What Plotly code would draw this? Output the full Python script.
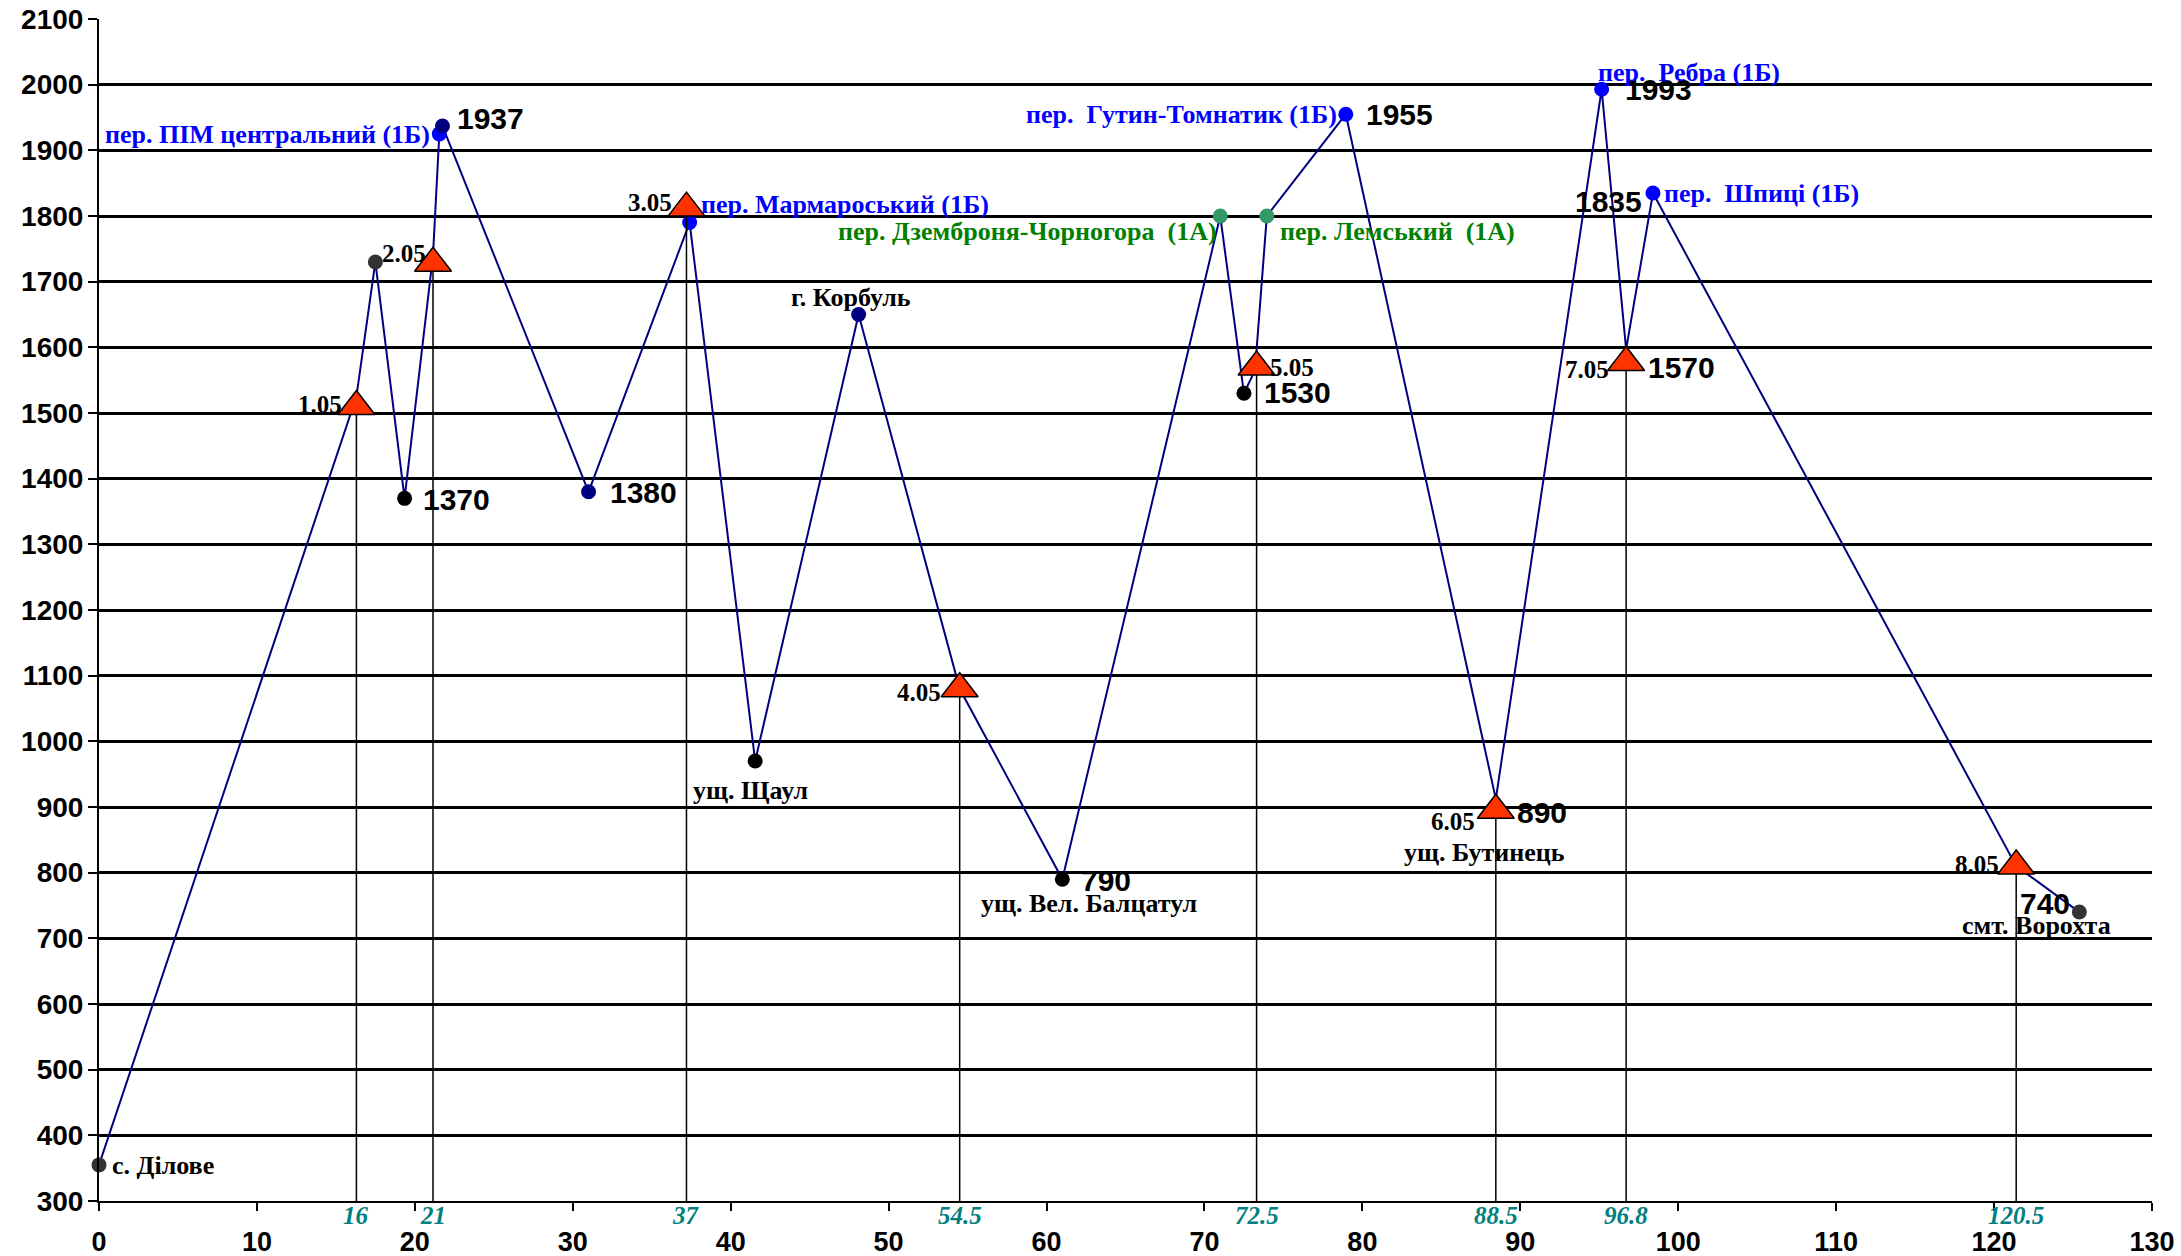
import plotly.graph_objects as go

# route profile: distance (km) and altitude (m), in walking order
route_km = [0, 16.3, 17.5, 19.35, 21.15, 21.55, 21.75, 31.0, 37.4, 41.55, 48.1, 54.5,
            61.0, 71.0, 72.5, 73.2, 73.95, 78.95, 88.45, 95.15, 96.7, 98.4, 121.4, 125.4]
route_alt = [355, 1525, 1730, 1370, 1740, 1925, 1937, 1380, 1790, 970, 1650, 1080,
             790, 1800, 1530, 1565, 1800, 1955, 912, 1993, 1597, 1835, 810, 740]
route_kind = ["grey", "camp", "grey", "black", "camp", "pass1B", "navy", "navy", "pass1B",
              "black", "navy", "camp", "black", "pass1A", "black", "camp", "pass1A",
              "pass1B", "camp", "pass1B", "camp", "pass1B", "camp", "grey"]
value_text = ["", "", "", "1370", "", "", "1937", "1380", "", "", "", "",
              "790", "", "1530", "", "", "1955", "890", "1993", "1570", "1835", "", "740"]
name_text = ["с. Ділове", "", "", "", "", "пер. ПІМ центральний (1Б)", "", "",
             "пер. Мармароський (1Б)", "ущ. Щаул", "г. Корбуль", "", "ущ. Вел. Балцатул",
             "пер. Дземброня-Чорногора \u00a0(1А)", "", "", "пер. Лемський \u00a0(1А)",
             "пер. \u00a0Гутин-Томнатик (1Б)", "ущ. Бутинець", "пер. \u00a0Ребра (1Б)", "",
             "пер. \u00a0Шпиці (1Б)", "", "смт. Ворохта"]

# overnight camps
camp_km = [16.3, 21.15, 37.2, 54.5, 73.3, 88.45, 96.7, 121.4]
camp_alt = [1510, 1728, 1812, 1080, 1570, 895, 1577, 810]
camp_day = ["1.05", "2.05", "3.05", "4.05", "5.05", "6.05", "7.05", "8.05"]
camp_km_text = ["16", "21", "37", "54.5", "72.5", "88.5", "96.8", "120.5"]

# styles
DOT = {"grey": "#333333", "black": "#000000", "navy": "#000080",
       "pass1B": "#0000FF", "pass1A": "#339966"}
NAME_COLOR = {"pass1B": "#0000FF", "pass1A": "#008000"}
SERIF = "Liberation Serif"
SANS = "Liberation Sans"

# label placement: index -> (anchor, dx px, dy px)
value_pos = {3: ("left", 17, -1), 6: ("left", 14, 8), 7: ("left", 20, -1),
             12: ("left", 18, -1), 14: ("left", 19, 1), 17: ("left", 19, 0),
             18: ("left", 20, -13), 19: ("left", 22, 0), 20: ("left", 21, -18),
             21: ("right", -10, -8), 23: ("right", -8, 9)}
name_pos = {0: ("left", 12, -1), 5: ("right", -8, -1), 8: ("left", 10, 18),
            9: ("center", -5, -29), 10: ("center", -8, 17), 12: ("center", 27, -24),
            13: ("right", -2, -15), 16: ("left", 12, -15), 17: ("right", -8, 0),
            18: ("center", -11, -53), 19: ("left", -5, 17), 21: ("left", 10, 0),
            23: ("center", -43, -13)}
day_pos = [("right", -13, 2), ("right", -6, 10), ("right", -13, 6), ("right", -18, -4),
           ("left", 12, 0), ("right", -20, -11), ("right", -16, -7), ("right", -16, 2)]

fig = go.Figure()

fig.add_scatter(x=route_km, y=route_alt, mode="lines",
                line=dict(color="#000080", width=2), hoverinfo="skip")

pts = [i for i, k in enumerate(route_kind) if k != "camp"]
fig.add_scatter(x=[route_km[i] for i in pts], y=[route_alt[i] for i in pts],
                mode="markers", cliponaxis=False,
                marker=dict(size=15, color=[DOT[route_kind[i]] for i in pts]))

fig.add_scatter(x=camp_km, y=camp_alt, mode="markers", cliponaxis=False,
                marker=dict(symbol="triangle-up", size=32, color="#FF3300",
                            line=dict(color="#000000", width=1.5)),
                error_y=dict(type="data", symmetric=False, array=[0] * len(camp_alt),
                             arrayminus=[a - 300 for a in camp_alt],
                             color="#000000", thickness=1.5, width=0))


def label(x, y, text, pos, size, family, color, bold=True):
    anchor, dx, dy = pos
    fig.add_annotation(x=x, y=y, text=f"<b>{text}</b>" if bold else text,
                       showarrow=False, xanchor=anchor, yanchor="middle",
                       xshift=dx, yshift=dy, borderpad=0,
                       font=dict(size=size, family=family, color=color))


for i, t in enumerate(value_text):
    if t:
        label(route_km[i], route_alt[i], t, value_pos[i], 30, SANS, "#000000")

for i, t in enumerate(name_text):
    if t:
        label(route_km[i], route_alt[i], t, name_pos[i], 26, SERIF,
              NAME_COLOR.get(route_kind[i], "#000000"))

for k, a, d, p in zip(camp_km, camp_alt, camp_day, day_pos):
    label(k, a, d, p, 25, SERIF, "#000000")

for k, t in zip(camp_km, camp_km_text):
    label(k, 300, f"<i>{t}</i>", ("center", 0, -14), 25, SERIF, "#008080")

fig.update_layout(
    width=2181, height=1256,
    margin=dict(l=99, r=29, t=19, b=55),
    paper_bgcolor="white", plot_bgcolor="white",
    showlegend=False,
)
fig.update_xaxes(range=[0, 130], dtick=10, showgrid=False, zeroline=False,
                 showline=True, linecolor="#000000", linewidth=2,
                 ticks="outside", ticklen=8, tickwidth=1.5, tickcolor="#000000",
                 ticklabelstandoff=8, automargin=False,
                 tickfont=dict(size=27, family=SANS, color="#000000", weight="bold"))
fig.update_yaxes(range=[300, 2100], dtick=100, showgrid=True, gridcolor="#000000",
                 gridwidth=2.5, zeroline=False,
                 showline=True, linecolor="#000000", linewidth=2,
                 ticks="outside", ticklen=9, tickwidth=2, tickcolor="#000000",
                 ticklabelstandoff=-1, automargin=False,
                 tickfont=dict(size=28, family=SANS, color="#000000", weight="bold"))

# drop the default page margin so the figure sits at the window corner
fig.write_html("out.html", config={"displayModeBar": False},
               post_script="document.body.style.margin='0';")
